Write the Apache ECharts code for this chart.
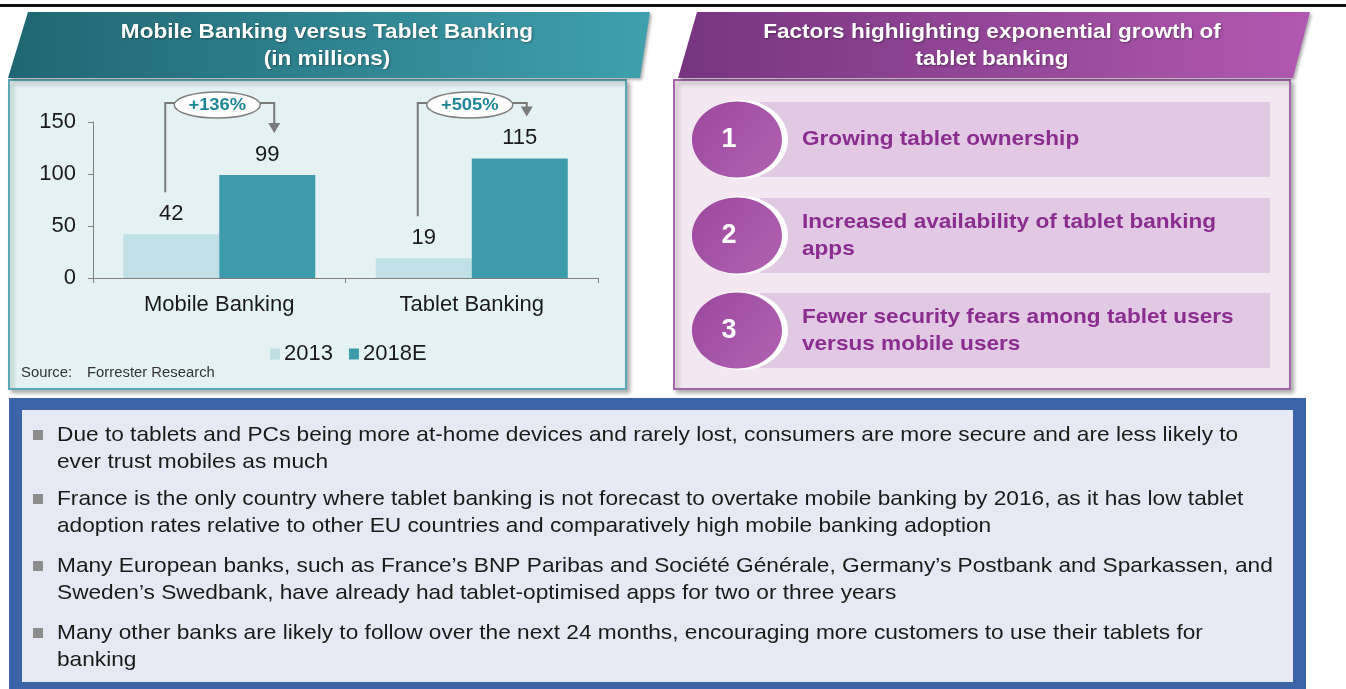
<!DOCTYPE html>
<html>
<head>
<meta charset="utf-8">
<title>Mobile Banking versus Tablet Banking</title>
<script src="https://cdn.jsdelivr.net/npm/echarts@6/dist/echarts.min.js"></script>
<style>
    html, body { margin: 0; padding: 0; background: #fff; }
    #main { width: 1346px; height: 689px; }
</style>
</head>
<body>
<div id="main"></div>
<script type="text/javascript">
// chart data
var categories = ['Mobile Banking', 'Tablet Banking'];
var years = ['2013', '2018E'];
var values2013 = [42, 19];
var values2018 = [99, 115];
var yMin = 0, yMax = 150, yStep = 50;

// texts
var leftTitle = ['Mobile Banking versus Tablet Banking', '(in millions)'];
var rightTitle = ['Factors highlighting exponential growth of', 'tablet banking'];
var sourceText = ['Source:', 'Forrester Research'];
var factors = [
    ['Growing tablet ownership'],
    ['Increased availability of tablet banking', 'apps'],
    ['Fewer security fears among tablet users', 'versus mobile users']
];
var bullets = [
    ['Due to tablets and PCs being more at-home devices and rarely lost, consumers are more secure and are less likely to',
     'ever trust mobiles as much'],
    ['France is the only country where tablet banking is not forecast to overtake mobile banking by 2016, as it has low tablet',
     'adoption rates relative to other EU countries and comparatively high mobile banking adoption'],
    ['Many European banks, such as France\u2019s BNP Paribas and Soci\u00e9t\u00e9 G\u00e9n\u00e9rale, Germany\u2019s Postbank and Sparkassen, and',
     'Sweden\u2019s Swedbank, have already had tablet-optimised apps for two or three years'],
    ['Many other banks are likely to follow over the next 24 months, encouraging more customers to use their tablets for',
     'banking']
];

var FONT = '"Liberation Sans", Arial, sans-serif';
var WIDE = 1.075; // the source picture is a little stretched sideways
var myChart = echarts.init(document.getElementById('main'));

// background panels, headers and side texts
var panels = [];
panels.push({ id: 'topline', type: 'rect', z: -5, shape: { x: 0, y: 4, width: 1346, height: 3 }, style: { fill: '#111' } });

// left panel
panels.push({
    id: 'lbody', type: 'rect', z: -5,
    shape: { x: 9, y: 80, width: 617, height: 309 },
    style: { fill: '#e4f2f4', stroke: '#5ba9b6', lineWidth: 2, shadowBlur: 4, shadowOffsetX: 3, shadowOffsetY: 3, shadowColor: 'rgba(0,0,0,0.3)' }
});
panels.push({
    id: 'lhead', type: 'polygon', z: -4,
    shape: { points: [[28, 12], [650, 12], [640, 78], [8, 78]] },
    style: {
        fill: new echarts.graphic.LinearGradient(0, 0, 1, 0, [{ offset: 0, color: '#1f6672' }, { offset: 1, color: '#3fa0ae' }]),
        shadowBlur: 3, shadowOffsetX: 2, shadowOffsetY: 2, shadowColor: 'rgba(0,0,0,0.3)'
    }
});
leftTitle.forEach(function (t, i) {
    panels.push({
        id: 'ltitle' + i, type: 'text', z: -3, x: 327, y: 32 + i * 27, scaleX: WIDE,
        style: { text: t, font: 'bold 21px ' + FONT, fill: '#fff', align: 'center', verticalAlign: 'middle',
                 textShadowColor: 'rgba(0,0,0,0.35)', textShadowBlur: 2, textShadowOffsetX: 1, textShadowOffsetY: 1 }
    });
});
panels.push({ id: 'src0', type: 'text', z: -3, x: 21, y: 373, scaleX: 1.06, style: { text: sourceText[0], font: '14px ' + FONT, fill: '#333', verticalAlign: 'middle' } });
panels.push({ id: 'src1', type: 'text', z: -3, x: 87, y: 373, scaleX: 1.06, style: { text: sourceText[1], font: '14px ' + FONT, fill: '#333', verticalAlign: 'middle' } });

// right panel
panels.push({
    id: 'rbody', type: 'rect', z: -5,
    shape: { x: 674, y: 80, width: 616, height: 309 },
    style: { fill: '#f3e7f2', stroke: '#a464aa', lineWidth: 2, shadowBlur: 4, shadowOffsetX: 3, shadowOffsetY: 3, shadowColor: 'rgba(0,0,0,0.3)' }
});
panels.push({
    id: 'rhead', type: 'polygon', z: -4,
    shape: { points: [[697, 12], [1310, 12], [1293, 78], [678, 78]] },
    style: {
        fill: new echarts.graphic.LinearGradient(0, 0, 1, 0, [{ offset: 0, color: '#773580' }, { offset: 1, color: '#b158b0' }]),
        shadowBlur: 3, shadowOffsetX: 2, shadowOffsetY: 2, shadowColor: 'rgba(0,0,0,0.3)'
    }
});
rightTitle.forEach(function (t, i) {
    panels.push({
        id: 'rtitle' + i, type: 'text', z: -3, x: 992, y: 32 + i * 27, scaleX: WIDE,
        style: { text: t, font: 'bold 21px ' + FONT, fill: '#fff', align: 'center', verticalAlign: 'middle',
                 textShadowColor: 'rgba(0,0,0,0.35)', textShadowBlur: 2, textShadowOffsetX: 1, textShadowOffsetY: 1 }
    });
});
var rowTop = [102, 198, 293];
factors.forEach(function (lines, i) {
    var y0 = rowTop[i], cy = y0 + 37.5;
    panels.push({ id: 'band' + i, type: 'rect', z: -4, shape: { x: 760, y: y0, width: 510, height: 75 }, style: { fill: '#e1c9e4' } });
    panels.push({ id: 'ring' + i, type: 'ellipse', z: -3, shape: { cx: 741, cy: cy, rx: 47, ry: 39.5 }, style: { fill: '#fff' } });
    panels.push({
        id: 'disc' + i, type: 'ellipse', z: -2, shape: { cx: 737, cy: cy, rx: 45, ry: 38 },
        style: { fill: new echarts.graphic.LinearGradient(0, 0, 1, 1, [{ offset: 0, color: '#9b479e' }, { offset: 1, color: '#b262b2' }]) }
    });
    panels.push({ id: 'num' + i, type: 'text', z: -1, x: 729, y: cy, style: { text: String(i + 1), font: 'bold 27px ' + FONT, fill: '#fff', align: 'center', verticalAlign: 'middle' } });
    var start = cy - (lines.length - 1) * 13.5;
    lines.forEach(function (t, j) {
        panels.push({ id: 'fac' + i + '_' + j, type: 'text', z: -1, x: 802, y: start + j * 27, scaleX: WIDE, style: { text: t, font: 'bold 21px ' + FONT, fill: '#8b2d8f', verticalAlign: 'middle' } });
    });
});

// bottom panel
panels.push({ id: 'bouter', type: 'rect', z: -5, shape: { x: 9, y: 398, width: 1297, height: 300 }, style: { fill: '#3a63a8' } });
panels.push({ id: 'binner', type: 'rect', z: -4, shape: { x: 22, y: 410, width: 1271, height: 272 }, style: { fill: '#e6e9f3' } });
var bulletTop = [430, 494, 561, 628];
bullets.forEach(function (lines, i) {
    panels.push({ id: 'sq' + i, type: 'rect', z: -3, shape: { x: 33, y: bulletTop[i], width: 10, height: 10 }, style: { fill: '#8c8c8c' } });
    lines.forEach(function (t, j) {
        panels.push({ id: 'bl' + i + '_' + j, type: 'text', z: -3, x: 57, y: bulletTop[i] + 5 + j * 27, scaleX: 1.08, style: { text: t, font: '21px ' + FONT, fill: '#1a1a1a', verticalAlign: 'middle' } });
    });
});

var option = {
    animation: false,
    textStyle: { fontFamily: FONT },
    grid: { left: 93, top: 122, width: 505, height: 156 },
    legend: {
        data: years, left: 265, top: 338, icon: 'rect', itemWidth: 10, itemHeight: 11, itemGap: 16,
        textStyle: { fontSize: 22, color: '#1a1a1a', padding: [0, 0, 0, -1] }
    },
    xAxis: {
        type: 'category', data: categories,
        axisLine: { lineStyle: { color: '#808080', width: 1 } },
        axisTick: { show: true, length: 5, lineStyle: { color: '#808080' } },
        axisLabel: { fontSize: 22, color: '#1a1a1a', margin: 16 }
    },
    yAxis: {
        type: 'value', min: yMin, max: yMax, interval: yStep,
        axisLine: { show: true, lineStyle: { color: '#808080', width: 1 } },
        axisTick: { show: true, length: 5, lineStyle: { color: '#808080' } },
        splitLine: { show: false },
        axisLabel: { fontSize: 22, color: '#1a1a1a', margin: 17 }
    },
    series: [{
        name: years[0], type: 'bar', data: values2013, barWidth: 96, barGap: '0%',
        itemStyle: { color: '#c1e0e5' },
        label: { show: true, position: 'top', distance: 9, fontSize: 22, color: '#1a1a1a' }
    }, {
        name: years[1], type: 'bar', data: values2018, barWidth: 96,
        itemStyle: { color: '#3e9bab' },
        label: { show: true, position: 'top', distance: 9, fontSize: 22, color: '#1a1a1a' }
    }],
    graphic: { elements: panels }
};
myChart.setOption(option);

// growth brackets placed with the chart's own scales
var notes = [];
var yTop = 103;
categories.forEach(function (c, i) {
    var cx = myChart.convertToPixel({ xAxisIndex: 0 }, c);
    var yA = myChart.convertToPixel({ yAxisIndex: 0 }, values2013[i]) - 42;
    var yB = myChart.convertToPixel({ yAxisIndex: 0 }, values2018[i]) - 42;
    var xL = cx - 54, xR = cx + 55;
    var pct = Math.round((values2018[i] - values2013[i]) / values2013[i] * 100);
    notes.push({ id: 'br' + i, type: 'polyline', z: 50, shape: { points: [[xL, yA], [xL, yTop], [xR, yTop], [xR, yB - 9]] }, style: { stroke: '#7a7a7a', lineWidth: 2, fill: null } });
    notes.push({ id: 'ah' + i, type: 'polygon', z: 50, shape: { points: [[xR - 6, yB - 10], [xR + 6, yB - 10], [xR, yB]] }, style: { fill: '#7a7a7a' } });
    notes.push({ id: 'ov' + i, type: 'ellipse', z: 51, shape: { cx: cx - 2, cy: 105, rx: 43, ry: 13 }, style: { fill: '#fff', stroke: '#7f7f7f', lineWidth: 1.5 } });
    notes.push({ id: 'pc' + i, type: 'text', z: 52, x: cx - 2, y: 105, scaleX: 1.08, style: { text: '+' + pct + '%', font: 'bold 17px ' + FONT, fill: '#1d8595', align: 'center', verticalAlign: 'middle' } });
});
myChart.setOption({ graphic: { elements: panels.concat(notes) } });
</script>
</body>
</html>
